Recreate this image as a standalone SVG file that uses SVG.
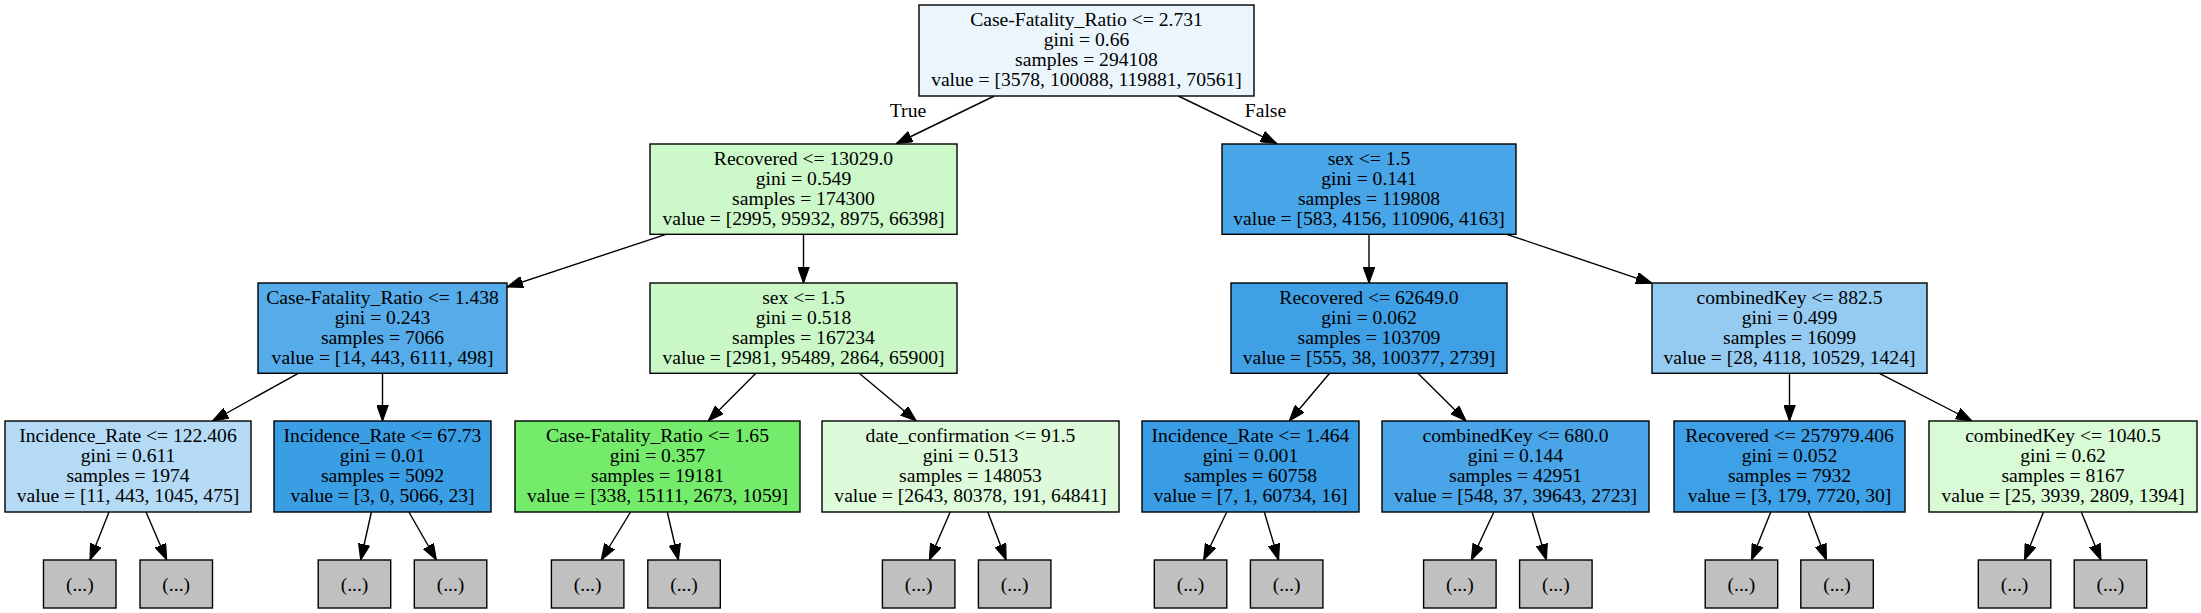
<svg xmlns="http://www.w3.org/2000/svg" width="2201" height="613" viewBox="0 0 2201 613">
<style>
.n rect{stroke:#000;stroke-width:1.4}
.n text{font-family:"Liberation Serif","Times New Roman",serif;font-size:19.6px;text-anchor:middle;fill:#000}
.lf rect{fill:#c0c0c0}
#edges path{stroke:#000;stroke-width:1.4;fill:none;marker-end:url(#ah)}
.el{font-family:"Liberation Serif","Times New Roman",serif;font-size:19.6px;text-anchor:middle;fill:#000}
</style>
<defs>
<marker id="ah" markerUnits="userSpaceOnUse" markerWidth="16" markerHeight="12" refX="14" refY="5" orient="auto" viewBox="0 0 14 10">
<path d="M0,0 L14,5 L0,10 z" fill="#000" stroke="#000" stroke-width="1"/>
</marker>
</defs>
<rect width="2201" height="613" fill="#fff"/>
<g id="edges">
<path d="M994.3,96 L896.5,143.5"/>
<path d="M1178.3,96 L1276.7,143.5"/>
<path d="M666,234.3 L507,287"/>
<path d="M803.5,234.3 L803.5,283"/>
<path d="M1369,234.3 L1369,283"/>
<path d="M1506.7,234.3 L1652,283.3"/>
<path d="M298.2,373.3 L212.5,421"/>
<path d="M382.5,373.3 L382.5,421"/>
<path d="M755.9,373.3 L708.2,421"/>
<path d="M859.2,373.3 L916.3,421"/>
<path d="M1329.6,373.3 L1289.3,421"/>
<path d="M1417.9,373.3 L1466.1,421"/>
<path d="M1789.5,373.3 L1789.5,421"/>
<path d="M1879.4,373.3 L1972,421"/>
<path d="M109,512 L90,560"/>
<path d="M146,512 L166.7,560"/>
<path d="M371.4,512 L360.7,560"/>
<path d="M408.9,512 L436.4,560"/>
<path d="M630.6,512 L601.2,560"/>
<path d="M667.3,512 L678.4,560"/>
<path d="M950.2,512 L929.4,560"/>
<path d="M987.8,512 L1006.1,560"/>
<path d="M1226.8,512 L1203.6,560"/>
<path d="M1264.3,512 L1278.6,560"/>
<path d="M1493.9,512 L1471.4,560"/>
<path d="M1532.1,512 L1546.4,560"/>
<path d="M1770.8,512 L1751.5,560"/>
<path d="M1808.2,512 L1826.4,560"/>
<path d="M2043.5,512 L2024.6,560"/>
<path d="M2081.3,512 L2100.9,560"/>
<text class="el" x="908" y="116.7">True</text>
<text class="el" x="1265.5" y="116.7">False</text>
</g>
<g id="n0" class="n"><rect x="919" y="5" width="335" height="91" fill="#ebf5fc"/>
<text x="1086.5" y="26">Case-Fatality_Ratio &lt;= 2.731</text><text x="1086.5" y="46">gini = 0.66</text><text x="1086.5" y="66">samples = 294108</text><text x="1086.5" y="86">value = [3578, 100088, 119881, 70561]</text></g>
<g id="n1" class="n"><rect x="650" y="144" width="307" height="90.3" fill="#cdf8c9"/>
<text x="803.5" y="165">Recovered &lt;= 13029.0</text><text x="803.5" y="185">gini = 0.549</text><text x="803.5" y="205">samples = 174300</text><text x="803.5" y="225">value = [2995, 95932, 8975, 66398]</text></g>
<g id="n2" class="n"><rect x="1222" y="144" width="294" height="90.3" fill="#48a5e7"/>
<text x="1369" y="165">sex &lt;= 1.5</text><text x="1369" y="185">gini = 0.141</text><text x="1369" y="205">samples = 119808</text><text x="1369" y="225">value = [583, 4156, 110906, 4163]</text></g>
<g id="n3" class="n"><rect x="258" y="283" width="249" height="90.3" fill="#56abe9"/>
<text x="382.5" y="304">Case-Fatality_Ratio &lt;= 1.438</text><text x="382.5" y="324">gini = 0.243</text><text x="382.5" y="344">samples = 7066</text><text x="382.5" y="364">value = [14, 443, 6111, 498]</text></g>
<g id="n4" class="n"><rect x="650" y="283" width="307" height="90.3" fill="#c9f7c5"/>
<text x="803.5" y="304">sex &lt;= 1.5</text><text x="803.5" y="324">gini = 0.518</text><text x="803.5" y="344">samples = 167234</text><text x="803.5" y="364">value = [2981, 95489, 2864, 65900]</text></g>
<g id="n5" class="n"><rect x="1231" y="283" width="276" height="90.3" fill="#40a0e6"/>
<text x="1369" y="304">Recovered &lt;= 62649.0</text><text x="1369" y="324">gini = 0.062</text><text x="1369" y="344">samples = 103709</text><text x="1369" y="364">value = [555, 38, 100377, 2739]</text></g>
<g id="n6" class="n"><rect x="1652" y="283" width="275" height="90.3" fill="#95cbf1"/>
<text x="1789.5" y="304">combinedKey &lt;= 882.5</text><text x="1789.5" y="324">gini = 0.499</text><text x="1789.5" y="344">samples = 16099</text><text x="1789.5" y="364">value = [28, 4118, 10529, 1424]</text></g>
<g id="n7" class="n"><rect x="5" y="421" width="246" height="91" fill="#b4daf5"/>
<text x="128" y="442">Incidence_Rate &lt;= 122.406</text><text x="128" y="462">gini = 0.611</text><text x="128" y="482">samples = 1974</text><text x="128" y="502">value = [11, 443, 1045, 475]</text></g>
<g id="n8" class="n"><rect x="274" y="421" width="217" height="91" fill="#3a9ee5"/>
<text x="382.5" y="442">Incidence_Rate &lt;= 67.73</text><text x="382.5" y="462">gini = 0.01</text><text x="382.5" y="482">samples = 5092</text><text x="382.5" y="502">value = [3, 0, 5066, 23]</text></g>
<g id="n9" class="n"><rect x="515" y="421" width="285" height="91" fill="#74eb6a"/>
<text x="657.5" y="442">Case-Fatality_Ratio &lt;= 1.65</text><text x="657.5" y="462">gini = 0.357</text><text x="657.5" y="482">samples = 19181</text><text x="657.5" y="502">value = [338, 15111, 2673, 1059]</text></g>
<g id="n10" class="n"><rect x="822" y="421" width="297" height="91" fill="#ddfada"/>
<text x="970.5" y="442">date_confirmation &lt;= 91.5</text><text x="970.5" y="462">gini = 0.513</text><text x="970.5" y="482">samples = 148053</text><text x="970.5" y="502">value = [2643, 80378, 191, 64841]</text></g>
<g id="n11" class="n"><rect x="1142" y="421" width="217" height="91" fill="#399de5"/>
<text x="1250.5" y="442">Incidence_Rate &lt;= 1.464</text><text x="1250.5" y="462">gini = 0.001</text><text x="1250.5" y="482">samples = 60758</text><text x="1250.5" y="502">value = [7, 1, 60734, 16]</text></g>
<g id="n12" class="n"><rect x="1382" y="421" width="267" height="91" fill="#49a5e7"/>
<text x="1515.5" y="442">combinedKey &lt;= 680.0</text><text x="1515.5" y="462">gini = 0.144</text><text x="1515.5" y="482">samples = 42951</text><text x="1515.5" y="502">value = [548, 37, 39643, 2723]</text></g>
<g id="n13" class="n"><rect x="1674" y="421" width="231" height="91" fill="#3ea0e6"/>
<text x="1789.5" y="442">Recovered &lt;= 257979.406</text><text x="1789.5" y="462">gini = 0.052</text><text x="1789.5" y="482">samples = 7932</text><text x="1789.5" y="502">value = [3, 179, 7720, 30]</text></g>
<g id="n14" class="n"><rect x="1929" y="421" width="268" height="91" fill="#d8fad5"/>
<text x="2063" y="442">combinedKey &lt;= 1040.5</text><text x="2063" y="462">gini = 0.62</text><text x="2063" y="482">samples = 8167</text><text x="2063" y="502">value = [25, 3939, 2809, 1394]</text></g>
<g id="l1" class="n lf"><rect x="43.5" y="560" width="72.5" height="48"/><text x="79.8" y="591">(...)</text></g>
<g id="l2" class="n lf"><rect x="140" y="560" width="72.5" height="48"/><text x="176.2" y="591">(...)</text></g>
<g id="l3" class="n lf"><rect x="318.2" y="560" width="72.5" height="48"/><text x="354.5" y="591">(...)</text></g>
<g id="l4" class="n lf"><rect x="414.3" y="560" width="72.5" height="48"/><text x="450.5" y="591">(...)</text></g>
<g id="l5" class="n lf"><rect x="551.4" y="560" width="72.5" height="48"/><text x="587.6" y="591">(...)</text></g>
<g id="l6" class="n lf"><rect x="647.8" y="560" width="72.5" height="48"/><text x="684" y="591">(...)</text></g>
<g id="l7" class="n lf"><rect x="882.4" y="560" width="72.5" height="48"/><text x="918.6" y="591">(...)</text></g>
<g id="l8" class="n lf"><rect x="978.4" y="560" width="72.5" height="48"/><text x="1014.6" y="591">(...)</text></g>
<g id="l9" class="n lf"><rect x="1154.3" y="560" width="72.5" height="48"/><text x="1190.5" y="591">(...)</text></g>
<g id="l10" class="n lf"><rect x="1250.4" y="560" width="72.5" height="48"/><text x="1286.6" y="591">(...)</text></g>
<g id="l11" class="n lf"><rect x="1423.6" y="560" width="72.5" height="48"/><text x="1459.8" y="591">(...)</text></g>
<g id="l12" class="n lf"><rect x="1519.6" y="560" width="72.5" height="48"/><text x="1555.8" y="591">(...)</text></g>
<g id="l13" class="n lf"><rect x="1705.2" y="560" width="72.5" height="48"/><text x="1741.4" y="591">(...)</text></g>
<g id="l14" class="n lf"><rect x="1800.8" y="560" width="72.5" height="48"/><text x="1837" y="591">(...)</text></g>
<g id="l15" class="n lf"><rect x="1978.3" y="560" width="72.5" height="48"/><text x="2014.5" y="591">(...)</text></g>
<g id="l16" class="n lf"><rect x="2074.2" y="560" width="72.5" height="48"/><text x="2110.4" y="591">(...)</text></g>
</svg>
